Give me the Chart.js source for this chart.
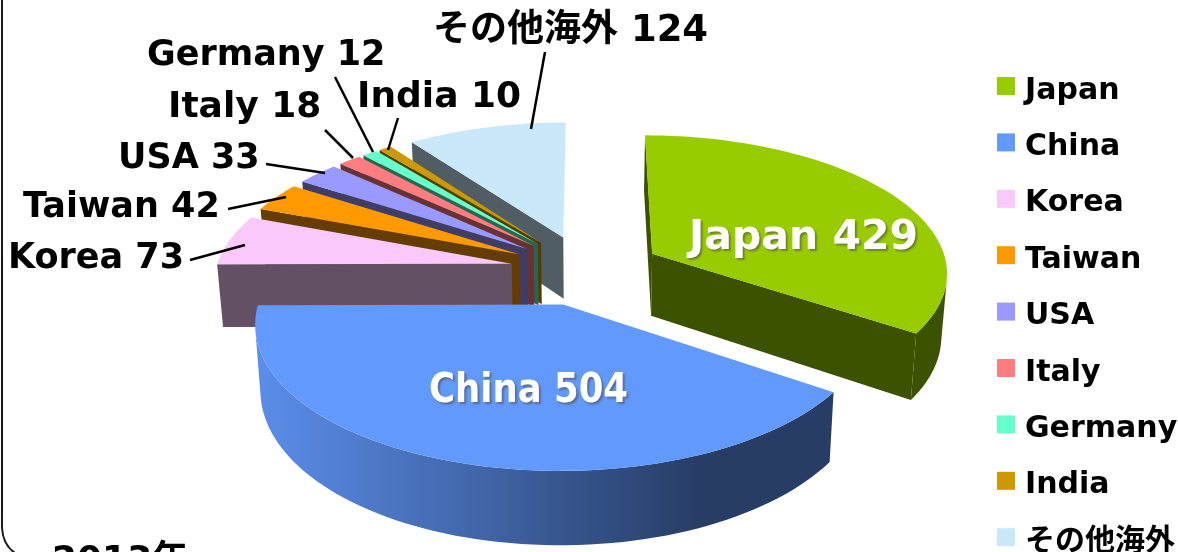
<!DOCTYPE html>
<html lang="ja">
<head>
<meta charset="utf-8">
<title>2013年</title>
<style>
  html, body { margin: 0; padding: 0; background: #fff; overflow: hidden; }
  #wrap { width: 1178px; height: 552px; position: relative; }
  canvas { display: block; }
</style>
<script src="https://cdn.jsdelivr.net/npm/chart.js@4/dist/chart.umd.min.js"></script>
</head>
<body>
<div id="wrap"><canvas id="pie"></canvas></div>
<script>
// Shipments by destination
const categories = ['Japan', 'China', 'Korea', 'Taiwan', 'USA', 'Italy', 'Germany', 'India', 'その他海外'];
const shipments = [429, 504, 73, 42, 33, 18, 12, 10, 124];
const sliceColors = ['#99cc00', '#6299fd', '#fac8fa', '#ff9900', '#9999ff', '#ff7c80', '#66ffcc', '#cc9900', '#c9e8fa'];
const yearLabel = '2013年';

// Tilted-disc camera: slices live on a plane that recedes toward a horizon.
const camera = { cx: 586, midY: 270, planeH: 1115, dist: 2415, depth: 63, taper: 0.984 };
const FONT = '"DejaVu Sans", "Noto Sans CJK JP", sans-serif';

function project(X, Z, lower) {
  const p = camera.dist / (camera.dist - Z);
  return {
    x: camera.cx + X * p * (lower ? camera.taper : 1),
    y: camera.midY + camera.planeH * (p - 1) + (lower ? camera.depth * p : 0)
  };
}

function shade(hex, k) {
  const n = parseInt(hex.slice(1), 16);
  return `rgb(${Math.round((n >> 16) * k)},${Math.round(((n >> 8) & 255) * k)},${Math.round((n & 255) * k)})`;
}

function polygon(ctx, pts, fill) {
  ctx.beginPath();
  pts.forEach((q, i) => (i ? ctx.lineTo(q.x, q.y) : ctx.moveTo(q.x, q.y)));
  ctx.closePath();
  ctx.fillStyle = fill;
  ctx.fill();
}

function area(pts) {
  let s = 0;
  pts.forEach((q, i) => {
    const r = pts[(i + 1) % pts.length];
    s += q.x * r.y - r.x * q.y;
  });
  return s;
}

// Converts a Chart.js arc element into projected outline points.
function sliceGeometry(arc) {
  const mid = (arc.startAngle + arc.endAngle) / 2;
  const off = arc.options.offset;
  const ox = off * Math.cos(mid), oz = off * Math.sin(mid);
  const at = (theta, r, lower) => project(ox + r * Math.cos(theta), oz + r * Math.sin(theta), lower);
  const R = arc.outerRadius;
  const steps = Math.max(2, Math.ceil((arc.endAngle - arc.startAngle) * 30));
  const angles = [];
  for (let i = 0; i <= steps; i++) angles.push(arc.startAngle + (arc.endAngle - arc.startAngle) * i / steps);
  return { at, R, angles, mid };
}

function drawSlice(ctx, arc, color) {
  const { at, R, angles } = sliceGeometry(arc);
  const first = angles[0], last = angles[angles.length - 1];
  const apexT = at(0, 0, false), apexB = at(0, 0, true);
  const wall = shade(color, 0.4);

  // Radial cut faces, kept only when they clearly face the viewer.
  const startFace = [apexT, at(first, R, false), at(first, R, true), apexB];
  const endFace = [at(last, R, false), apexT, apexB, at(last, R, true)];
  if (area(startFace) < -1000) polygon(ctx, startFace, wall);
  if (area(endFace) < -1000) polygon(ctx, endFace, wall);

  // Rim: the visible run of the curved outer wall, lit from the left.
  const seen = [];
  for (let i = 0; i < angles.length - 1; i++) {
    const a = angles[i], b = angles[i + 1];
    if (area([at(a, R, false), at(b, R, false), at(b, R, true), at(a, R, true)]) < 0) seen.push(i);
  }
  if (seen.length) {
    const run = angles.slice(seen[0], seen[seen.length - 1] + 2);
    const rim = run.map(t => at(t, R, false)).concat(run.slice().reverse().map(t => at(t, R, true)));
    const g = ctx.createLinearGradient(255, 0, 700, 0);
    g.addColorStop(0, shade(color, 0.93));
    g.addColorStop(1, wall);
    polygon(ctx, rim, g);
  }

  // Top face.
  const top = [apexT].concat(angles.map(t => at(t, R, false)));
  polygon(ctx, top, color);
}

// Callouts: [category index, text x, baseline y, font px, leader x0, y0, x1, y1].
const callouts = [
  [2, 8, 268, 35, 190, 260, 245, 245],
  [3, 23, 217, 35, 228, 209, 286, 197],
  [4, 118, 168, 35, 266, 164, 325, 173],
  [5, 168, 117, 36, 325, 130, 353, 158],
  [6, 147, 65, 35, 335, 77, 373, 152],
  [7, 357, 107, 36, 398, 118, 388, 150],
  [8, 433, 41, 37, 545, 52, 531, 129]
];
// White captions lying on the two large slices: [category index, x, baseline y, max width].
const captions = [
  [0, 689, 249, 232],
  [1, 429, 402, 199]
];
const legendTop = 86, legendStep = 56.4;

const pseudoPie = {
  id: 'pseudoPie',
  beforeDatasetsDraw(chart) {
    const ctx = chart.ctx;
    const arcs = chart.getDatasetMeta(0).data;
    const colors = chart.data.datasets[0].backgroundColor;

    // Painter's order: farthest slices first, the two big front slices last.
    ctx.save();
    [8, 7, 6, 5, 4, 3, 2, 0, 1].forEach(i => drawSlice(ctx, arcs[i], colors[i]));
    ctx.restore();
    return false;
  },
  afterDraw(chart) {
    const ctx = chart.ctx;
    const labels = chart.data.labels;
    const values = chart.data.datasets[0].data;
    const colors = chart.data.datasets[0].backgroundColor;

    ctx.save();
    // Rounded panel border.
    ctx.strokeStyle = '#1a1a1a';
    ctx.lineWidth = 2;
    ctx.beginPath();
    ctx.moveTo(2, 0);
    ctx.lineTo(2, 528);
    ctx.quadraticCurveTo(3, 545, 15, 553);
    ctx.stroke();

    // Leader lines and callouts.
    ctx.textBaseline = 'alphabetic';
    ctx.textAlign = 'left';
    callouts.forEach(([i, tx, ty, px, x0, y0, x1, y1]) => {
      ctx.strokeStyle = '#000';
      ctx.lineWidth = 2.5;
      ctx.beginPath();
      ctx.moveTo(x0, y0);
      ctx.lineTo(x1, y1);
      ctx.stroke();
      ctx.fillStyle = '#000';
      ctx.font = `bold ${px}px ${FONT}`;
      ctx.fillText(`${labels[i]} ${values[i]}`, tx, ty);
    });

    // Captions on the big slices.
    captions.forEach(([i, tx, ty, maxW]) => {
      ctx.save();
      ctx.font = `bold 41px ${FONT}`;
      ctx.shadowColor = 'rgba(80,80,80,0.6)';
      ctx.shadowOffsetX = 2;
      ctx.shadowOffsetY = 2;
      ctx.shadowBlur = 2;
      ctx.fillStyle = '#fff';
      ctx.fillText(`${labels[i]} ${values[i]}`, tx, ty, maxW);
      ctx.restore();
    });

    // Legend column.
    labels.forEach((name, i) => {
      const cy = legendTop + legendStep * i;
      ctx.fillStyle = colors[i];
      ctx.fillRect(997, cy - 9, 18, 18);
      ctx.fillStyle = '#000';
      ctx.font = `bold 30px ${FONT}`;
      ctx.textBaseline = 'alphabetic';
      ctx.fillText(name, 1025, cy + 12.5);
    });

    // Year caption along the bottom edge.
    ctx.font = `bold 36px ${FONT}`;
    ctx.fillStyle = '#000';
    ctx.fillText(yearLabel, 52, 571);
    ctx.restore();
  }
};

new Chart(document.getElementById('pie'), {
  type: 'pie',
  data: {
    labels: categories,
    datasets: [{
      data: shipments,
      backgroundColor: sliceColors,
      borderWidth: 0,
      offset: 76,
      radius: 296
    }]
  },
  options: {
    responsive: true,
    maintainAspectRatio: false,
    animation: false,
    events: [],
    plugins: { legend: { display: false }, tooltip: { enabled: false } }
  },
  plugins: [pseudoPie]
});
</script>
</body>
</html>
